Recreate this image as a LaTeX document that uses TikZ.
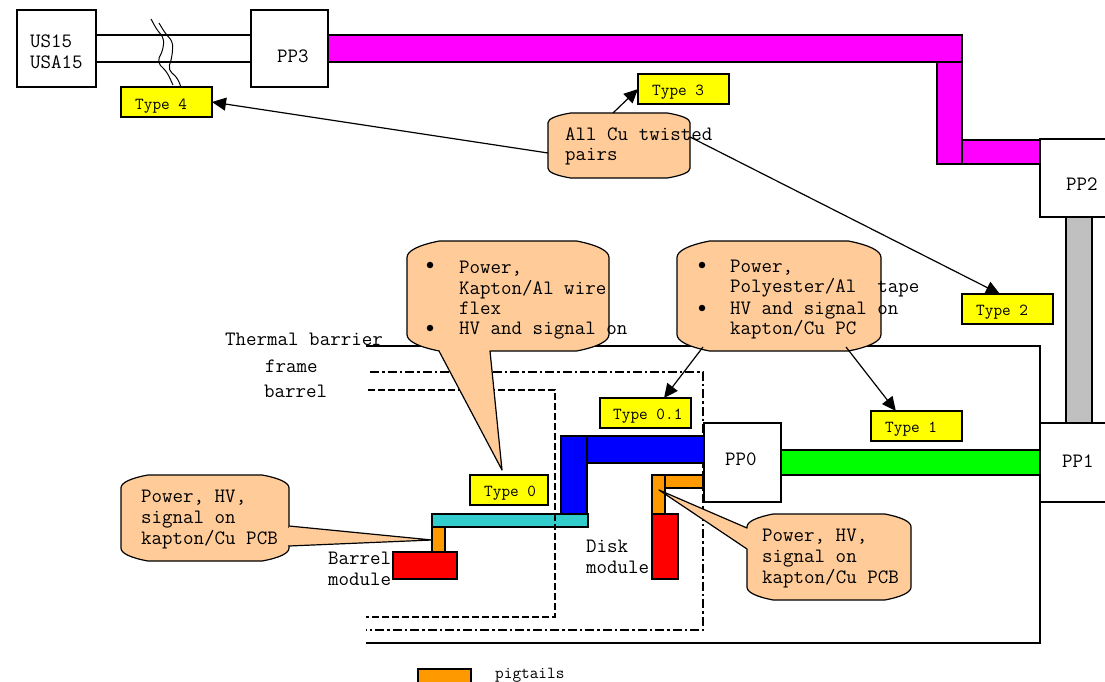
\documentclass[tikz,border=0pt]{standalone}
\usetikzlibrary{arrows.meta}
\definecolor{peach}{HTML}{FFCC99}
\definecolor{pig}{HTML}{FF9900}
\definecolor{teal2}{HTML}{33CCCC}
\definecolor{mag}{HTML}{FF00FF}
\definecolor{grn}{HTML}{00FF00}
\definecolor{gry}{HTML}{C0C0C0}
\definecolor{yel}{HTML}{FFFF00}
\newcommand\bx[6]{%
  \pgfmathsetmacro\cx{(#2+#4)/2}\pgfmathsetmacro\cy{(#3+#5)/2}%
  \pgfmathsetmacro\bw{#4-#2}\pgfmathsetmacro\bh{#5-#3}%
  \node[shapebox,#6,minimum width=\bw pt,minimum height=\bh pt] (#1) at (\cx,\cy) {};}
\newcommand\callout[6]{%
  \pgfmathsetmacro\dx{0.16*(#3-#1)}\pgfmathsetmacro\dy{0.15*(#4-#2)}%
  \pgfmathsetmacro\xa{#1+\dx}\pgfmathsetmacro\xb{#3-\dx}%
  \pgfmathsetmacro\ya{#2+\dy}\pgfmathsetmacro\yb{#4-\dy}%
  \pgfmathsetmacro\xc{#1+0.35*\dx}\pgfmathsetmacro\xd{#3-0.35*\dx}%
  \pgfmathsetmacro\yc{#2+0.25*\dy}\pgfmathsetmacro\yd{#4-0.25*\dy}%
  \pgfmathsetmacro\ye{#2+0.6*\dy}\pgfmathsetmacro\yf{#4-0.6*\dy}%
  \draw[bubble] (\xa,#2) -- (\xb,#2) .. controls (\xd,\yc) and (#3,\ye) .. (#3,\ya)
    -- (#3,\yb) .. controls (#3,\yf) and (\xd,\yd) .. (\xb,#4) #6 -- (\xa,#4)
    .. controls (\xc,\yd) and (#1,\yf) .. (#1,\yb) #5 -- (#1,\ya)
    .. controls (#1,\ye) and (\xc,\yc) .. (\xa,#2) -- cycle;}
\tikzset{
  shapebox/.style={draw=black,line width=1.2pt,inner sep=0pt,outer sep=0pt,fill=white},
  bubble/.style={draw=black,line width=1.2pt,fill=peach,line join=round},
  txt/.style={anchor=west,inner sep=0pt,align=left,font=\ttfamily\fontsize{20.4}{20.6}\selectfont,text=black},
  small/.style={anchor=west,inner sep=0pt,font=\ttfamily\fontsize{16.8}{16}\selectfont,text=black},
  wire/.style={line width=1.2pt,draw=black},
  arrow/.style={line width=1.2pt,draw=black,-{Triangle[length=14pt,width=13pt]}},
  dashb/.style={line width=1.5pt,draw=black,dash pattern=on 7pt off 3pt},
  dashdot/.style={line width=1.5pt,draw=black,dash pattern=on 9pt off 3pt on 2.5pt off 3pt},
  dot/.style={circle,fill=black,inner sep=0pt,minimum size=6.5pt}
}
\begin{document}
\begin{tikzpicture}[x=1pt,y=-1pt]
\useasboundingbox (0,0) rectangle (1105,682);
\clip (0,0) rectangle (1105,682);
% double line US15 - PP3
\bx{us}{17}{10}{96}{87}{}
\bx{ppthree}{251}{10}{328}{87}{}
\draw[wire] (us.east |- 0,35) -- (ppthree.west |- 0,35);
\draw[wire] (us.east |- 0,62) -- (ppthree.west |- 0,62);
\draw[line width=1pt,rounded corners=5pt] (151,19) -- (157,30) -- (164,38) -- (163,50) -- (157,62) -- (167,72) -- (173,85);
\draw[line width=1pt,rounded corners=5pt] (159,23) -- (165,33) -- (173,42) -- (172,57) -- (168,70) -- (177,77) -- (181,87);
% magenta bands
\bx{magA}{328}{35}{962}{62}{fill=mag}
\bx{magB}{937}{62}{962}{164}{fill=mag}
\bx{magC}{962}{140}{1040}{164}{fill=mag}
\bx{grayband}{1066}{217}{1092}{423}{fill=gry}
\bx{pptwo}{1040}{139}{1115}{217}{}
\bx{ppone}{1040}{423}{1115}{502}{}
\bx{green}{781}{450}{1040}{475}{fill=grn}
% thermal barrier
\coordinate (tbA) at (366,346); \coordinate (tbB) at (1040,346);
\coordinate (tbC) at (1040,643); \coordinate (tbD) at (366,643);
\draw[wire] (tbA) -- (tbB) -- (tbC) -- (tbD);
\coordinate (frA) at (370,372); \coordinate (frB) at (703,372);
\coordinate (frC) at (703,630); \coordinate (frD) at (366,630);
\draw[dashdot] (frA) -- (frB) -- (frC) -- (frD);
\coordinate (baA) at (368,390); \coordinate (baB) at (555,390);
\coordinate (baC) at (555,617); \coordinate (baD) at (366,617);
\draw[dashb] (baA) -- (baB) -- (baC) -- (baD);
% modules
\bx{blueA}{561}{436}{587}{514}{fill=blue}
\bx{blueB}{587}{436}{704}{463}{fill=blue}
\bx{ppzero}{704}{423}{781}{502}{}
\bx{tealband}{432}{514}{588}{527}{fill=teal2}
\bx{pigA}{432}{527}{445}{553}{fill=pig}
\bx{redA}{393}{552}{457}{579}{fill=red}
\bx{pigC}{665}{475}{703}{488}{fill=pig}
\bx{pigB}{652}{475}{665}{514}{fill=pig}
\bx{redB}{652}{514}{678}{579}{fill=red}
\draw[dashb] (555,514) -- (555,527);
% yellow labels
\bx{tfour}{121}{87}{212}{117}{fill=yel}
\bx{tthree}{638}{74}{729}{104}{fill=yel}
\bx{ttwo}{962}{294}{1053}{324}{fill=yel}
\bx{tone}{871}{411}{962}{441}{fill=yel}
\bx{tzo}{600}{398}{691}{428}{fill=yel}
\bx{tzero}{470}{475}{548}{505}{fill=yel}
\bx{legendbox}{418}{669}{471}{700}{fill=pig}
% callouts
\callout{407}{241}{609}{351}{}{-- (490,351) -- (502,470) -- (439,351)}
\callout{677}{241}{881}{351}{}{}
\callout{548}{113}{690}{178}{}{}
\callout{121}{475}{289}{561}{}{}
\draw[bubble] (289,526) -- (432,540) -- (289,546);
\fill[peach] (285,527.5) rectangle (291,544.5);
\callout{747}{514}{911}{600}{-- (747,549) -- (659,490) -- (747,528)}{}
% arrows
\coordinate (cuL) at (548,153); \coordinate (cuT) at (613,113); \coordinate (cuR) at (690,137);
\coordinate (flA) at (703,347); \coordinate (flB) at (846,347);
\draw[arrow] (cuL) -- (tfour.east);
\draw[arrow] (cuT) -- (tthree.west);
\draw[arrow] (cuR) -- (ttwo.117);
\draw[arrow] (flA) -- (tzo.39);
\draw[arrow] (flB) -- (tone.144);
% texts
\node[txt] (tUS) at (30,52) {US15\\USA15};
\node[txt] (tPPthree) at (277,56) {PP3};
\node[txt] (tPPtwo) at (1066,184) {PP2};
\node[txt] (tPPone) at (1062,461) {PP1};
\node[txt] (tPPzero) at (725,459) {PP0};
\node[txt] (tTB) at (225,339) {Thermal barrier};
\node[txt] (tFr) at (265,366) {frame};
\node[txt] (tBa) at (264,391) {barrel};
\node[txt] (tBM) at (328,569) {Barrel\\module};
\node[txt] (tDM) at (586,557) {Disk\\module};
\node[txt] (tCu) at (565,146.5) {All Cu twisted\\pairs};
\node[txt] (tCa) at (459,288) {Power,\\Kapton/Al wire\\flex};
\node[txt] (tCb) at (459,331) {HV and signal on};
\node[txt] (tDa) at (730,278.5) {Power,\\Polyester/Al\ \ tape};
\node[txt] (tDb) at (730,320.5) {HV and signal on\\kapton/Cu PC};
\node[txt] (tLeft) at (141,519.5) {Power, HV,\\signal on\\kapton/Cu PCB};
\node[txt] (tRight) at (762,558.5) {Power, HV,\\signal on\\kapton/Cu PCB};
\node[dot] (dA) at (430,265) {};
\node[dot] (dB) at (430,328) {};
\node[dot] (dC) at (702,265) {};
\node[dot] (dD) at (702,308) {};
\node[small] (lFour) at (135,106) {Type 4};
\node[small] (lThree) at (652,92) {Type 3};
\node[small] (lTwo) at (976,312) {Type 2};
\node[small] (lOne) at (885,429) {Type 1};
\node[small] (lZO) at (613,416) {Type 0.1};
\node[small] (lZero) at (484,493) {Type 0};
\node[small] (lPig) at (495,675) {pigtails};
\end{tikzpicture}
\end{document}
